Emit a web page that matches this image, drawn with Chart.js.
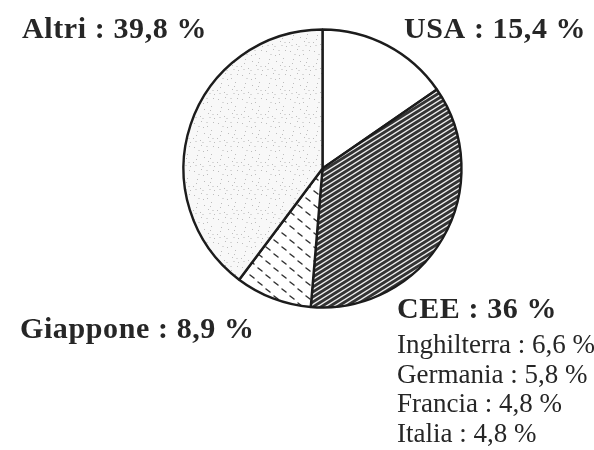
<!DOCTYPE html>
<html>
<head>
<meta charset="utf-8">
<script src="https://cdn.jsdelivr.net/npm/chart.js@4.4.1/dist/chart.umd.min.js"></script>
<style>
  html, body { margin: 0; padding: 0; background: #ffffff; }
  #wrap { width: 594px; height: 450px; position: relative; }
</style>
</head>
<body>
<div id="wrap"><canvas id="c" width="594" height="450"></canvas></div>
<script>
// ---- data ----
const categories = ['USA', 'CEE', 'Giappone', 'Altri'];
const shares = [15.4, 36, 8.9, 39.8];
const ceeCountries = ['Inghilterra', 'Germania', 'Francia', 'Italia'];
const ceeShares = [6.6, 5.8, 4.8, 4.8];

// ---- fill patterns ----
function makeTile(w, h, draw) {
  const c = document.createElement('canvas');
  c.width = w; c.height = h;
  const g = c.getContext('2d');
  draw(g, w, h);
  return document.getElementById('c').getContext('2d').createPattern(c, 'repeat');
}
const hatch = makeTile(8, 5, (g, w, h) => {
  g.fillStyle = '#333333';
  g.fillRect(0, 0, w, h);
  g.strokeStyle = '#eeeeee';
  g.lineWidth = 1.4;
  [[-w, 2 * h, 2 * w, -h], [-w, h, w, -h], [0, 2 * h, 2 * w, 0]].forEach(l => {
    g.beginPath(); g.moveTo(l[0], l[1]); g.lineTo(l[2], l[3]); g.stroke();
  });
});
const dashes = makeTile(16, 14, (g, w, h) => {
  g.fillStyle = '#ffffff';
  g.fillRect(0, 0, w, h);
  g.strokeStyle = '#333333';
  g.lineWidth = 1.5;
  g.lineCap = 'round';
  g.beginPath(); g.moveTo(2, 2); g.lineTo(6, 5); g.stroke();
  g.beginPath(); g.moveTo(10, 9); g.lineTo(14, 12); g.stroke();
});
const speckle = makeTile(24, 24, (g, w, h) => {
  g.fillStyle = '#f8f8f8';
  g.fillRect(0, 0, w, h);
  g.fillStyle = '#bdbdbd';
  const dots = [[2,3],[9,1],[15,6],[21,2],[5,11],[12,13],[19,10],[1,18],[8,20],[16,17],[22,22],[11,7],[4,15],[18,14]];
  dots.forEach(d => g.fillRect(d[0], d[1], 1, 1));
  g.fillStyle = '#d8d8d8';
  const dots2 = [[6,6],[14,2],[20,18],[10,22],[3,21],[17,21]];
  dots2.forEach(d => g.fillRect(d[0], d[1], 2, 1));
});

const fmt = v => String(v).replace('.', ',') + ' %';

const labelPlugin = {
  id: 'labels',
  afterDraw(chart) {
    const ctx = chart.ctx;
    ctx.save();
    ctx.fillStyle = '#262626';
    ctx.textBaseline = 'alphabetic';
    ctx.textAlign = 'left';
    const bold = 'bold 30px "Liberation Serif", "DejaVu Serif", serif';
    const reg = '27px "Liberation Serif", "DejaVu Serif", serif';
    const pos = {
      USA: [404, 38],
      CEE: [397, 318],
      Giappone: [20, 338],
      Altri: [22, 38]
    };
    ctx.font = bold;
    ctx.letterSpacing = '0.6px';
    categories.forEach((c, i) => {
      const p = pos[c];
      ctx.fillText(c + ' : ' + fmt(shares[i]), p[0], p[1]);
    });
    ctx.font = reg;
    ctx.letterSpacing = '0px';
    ceeCountries.forEach((c, i) => {
      ctx.fillText(c + ' : ' + fmt(ceeShares[i]), 397, 353 + i * 29.6);
    });
    ctx.restore();
  }
};

new Chart(document.getElementById('c'), {
  type: 'pie',
  data: {
    labels: categories,
    datasets: [{
      data: shares,
      backgroundColor: [ '#ffffff', hatch, dashes, speckle ],
      borderColor: '#1c1c1c',
      borderWidth: 2.4,
      hoverOffset: 0
    }]
  },
  options: {
    responsive: false,
    animation: false,
    radius: 139,
    layout: { padding: { left: 51, right: 0, top: 0, bottom: 113 } },
    plugins: {
      legend: { display: false },
      tooltip: { enabled: false }
    },
    events: []
  },
  plugins: [labelPlugin]
});
</script>
</body>
</html>
